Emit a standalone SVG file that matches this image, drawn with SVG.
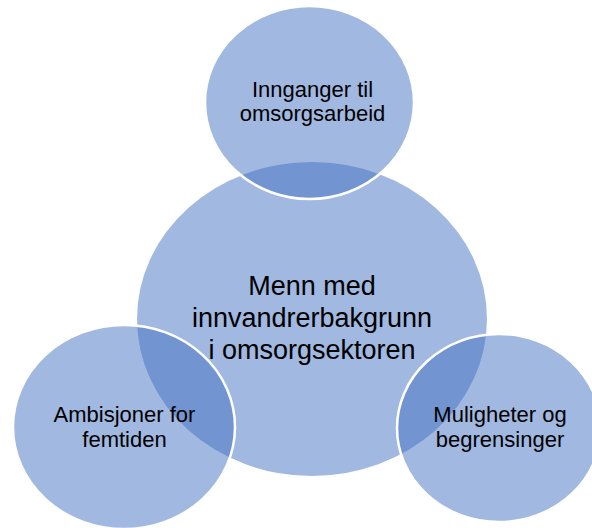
<svg xmlns="http://www.w3.org/2000/svg" width="592" height="528" viewBox="0 0 592 528">
<style>
.c{fill:#4472C4;fill-opacity:0.5;stroke:#FFFFFF;stroke-width:2.5}
.cm{fill:#4472C4;fill-opacity:0.5;stroke:none}
.t{font-family:"Liberation Sans",Arial,sans-serif;fill:#000;text-anchor:middle}
.big{font-size:27px}
.sm{font-size:22px}
</style>
<rect width="592" height="528" fill="#FFFFFF"/>
<g id="node-center">
<ellipse class="cm" cx="312" cy="319" rx="175" ry="157"/>
<text class="t big" x="312" y="295">Menn med</text>
<text class="t big" x="312" y="327">innvandrerbakgrunn</text>
<text class="t big" x="312" y="359">i omsorgsektoren</text>
</g>
<g id="node-top">
<ellipse class="c" cx="309.5" cy="102.5" rx="104.5" ry="96.5"/>
<text class="t sm" x="312.5" y="97">Innganger til</text>
<text class="t sm" x="312.5" y="121">omsorgsarbeid</text>
</g>
<g id="node-left">
<ellipse class="c" cx="124" cy="427" rx="111" ry="102"/>
<text class="t sm" x="124.5" y="422">Ambisjoner for</text>
<text class="t sm" x="124.5" y="447">femtiden</text>
</g>
<g id="node-right">
<ellipse class="c" cx="499" cy="428" rx="102" ry="94"/>
<text class="t sm" x="500" y="422">Muligheter og</text>
<text class="t sm" x="500" y="447">begrensinger</text>
</g>
</svg>
